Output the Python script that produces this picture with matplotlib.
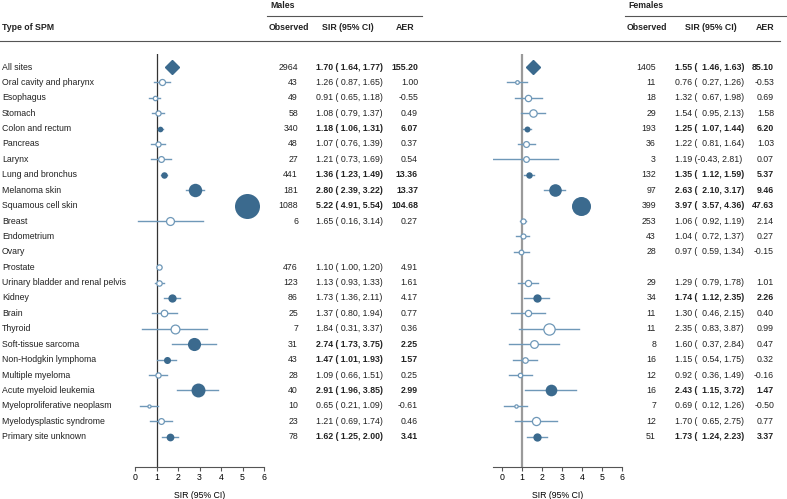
import numpy as np
import matplotlib
matplotlib.use("Agg")
import matplotlib.pyplot as plt
from matplotlib.lines import Line2D
from matplotlib.transforms import blended_transform_factory

plt.rcParams['font.family'] = ['Liberation Sans', 'DejaVu Sans']

nan = np.nan

spm_types = ["All sites", "Oral cavity and pharynx", "Esophagus", "Stomach",
             "Colon and rectum", "Pancreas", "Larynx", "Lung and bronchus",
             "Melanoma skin", "Squamous cell skin", "Breast", "Endometrium",
             "Ovary", "Prostate", "Urinary bladder and renal pelvis", "Kidney",
             "Brain", "Thyroid", "Soft-tissue sarcoma", "Non-Hodgkin lymphoma",
             "Multiple myeloma", "Acute myeloid leukemia",
             "Myeloproliferative neoplasm", "Myelodysplastic syndrome",
             "Primary site unknown"]

# males
m_obs = [2964, 43, 49, 58, 340, 48, 27, 441, 181, 1088, 6, None, None, 476, 123,
         86, 25, 7, 31, 43, 28, 40, 10, 23, 78]
m_sir = [1.70, 1.26, 0.91, 1.08, 1.18, 1.07, 1.21, 1.36, 2.80, 5.22, 1.65, nan, nan,
         1.10, 1.13, 1.73, 1.37, 1.84, 2.74, 1.47, 1.09, 2.91, 0.65, 1.21, 1.62]
m_lo = [1.64, 0.87, 0.65, 0.79, 1.06, 0.76, 0.73, 1.23, 2.39, 4.91, 0.16, nan, nan,
        1.00, 0.93, 1.36, 0.80, 0.31, 1.73, 1.01, 0.66, 1.96, 0.21, 0.69, 1.25]
m_hi = [1.77, 1.65, 1.18, 1.37, 1.31, 1.39, 1.69, 1.49, 3.22, 5.54, 3.14, nan, nan,
        1.20, 1.33, 2.11, 1.94, 3.37, 3.75, 1.93, 1.51, 3.85, 1.09, 1.74, 2.00]
m_aer = [155.20, 1.00, -0.55, 0.49, 6.07, 0.37, 0.54, 13.36, 13.37, 104.68, 0.27,
         nan, nan, 4.91, 1.61, 4.17, 0.77, 0.36, 2.25, 1.57, 0.25, 2.99, -0.61,
         0.46, 3.41]
m_bold = [0, 4, 7, 8, 9, 18, 19, 21, 24]
m_filled = [4, 7, 8, 9, 15, 18, 19, 21, 24]

# females
f_obs = [1405, 11, 18, 29, 193, 36, 3, 132, 97, 399, 253, 43, 28, None, 29, 34,
         11, 11, 8, 16, 12, 16, 7, 12, 51]
f_sir = [1.55, 0.76, 1.32, 1.54, 1.25, 1.22, 1.19, 1.35, 2.63, 3.97, 1.06, 1.04,
         0.97, nan, 1.29, 1.74, 1.30, 2.35, 1.60, 1.15, 0.92, 2.43, 0.69, 1.70, 1.73]
f_lo = [1.46, 0.27, 0.67, 0.95, 1.07, 0.81, -0.43, 1.12, 2.10, 3.57, 0.92, 0.72,
        0.59, nan, 0.79, 1.12, 0.46, 0.83, 0.37, 0.54, 0.36, 1.15, 0.12, 0.65, 1.24]
f_hi = [1.63, 1.26, 1.98, 2.13, 1.44, 1.64, 2.81, 1.59, 3.17, 4.36, 1.19, 1.37,
        1.34, nan, 1.78, 2.35, 2.15, 3.87, 2.84, 1.75, 1.49, 3.72, 1.26, 2.75, 2.23]
f_aer = [85.10, -0.53, 0.69, 1.58, 6.20, 1.03, 0.07, 5.37, 9.46, 47.63, 2.14, 0.27,
         -0.15, nan, 1.01, 2.26, 0.40, 0.99, 0.47, 0.32, -0.16, 1.47, -0.50, 0.77, 3.37]
f_bold = [0, 4, 7, 8, 9, 15, 21, 24]
f_filled = [4, 7, 8, 9, 15, 21, 24]

W, H = 787, 499
DARK = '#3b6a8e'
LIGHT = '#6f98b8'
FS = 6.3

fig = plt.figure(figsize=(W / 100, H / 100), dpi=100)
fig.patch.set_facecolor('white')

n = len(spm_types)
row0, step = 67, 15.4          # pixel y of first row, row spacing
ax_top, ax_bot = 54, 467


def fx(px):
    return px / W


def fy(py):
    return 1 - py / H


ylo = (ax_bot - row0) / step
yhi = (ax_top - row0) / step


def forest(x0px, xmin, refcol, reflw, sir, lo, hi, filled):
    ax = fig.add_axes([fx(x0px), fy(ax_bot), fx(129), (ax_bot - ax_top) / H])
    ax.set_xlim(xmin, 6)
    ax.set_ylim(ylo, yhi)
    ax.axvline(1, color=refcol, lw=reflw, zorder=1)
    for i in range(n):
        if np.isnan(sir[i]):
            continue
        ax.plot([lo[i], hi[i]], [i, i], color=LIGHT, lw=1.0, zorder=2)
        d = 3.45 * sir[i]
        if i == 0:
            ax.plot(sir[i], i, marker='D', ms=7, color=DARK, mec=DARK, zorder=3)
        elif i in filled:
            ax.scatter(sir[i], i, s=d ** 2, color=DARK, lw=0, zorder=3)
        else:
            ax.scatter(sir[i], i, s=d ** 2, facecolor='white', edgecolor=LIGHT,
                       lw=0.9, zorder=3)
    for s in ['top', 'right', 'left']:
        ax.spines[s].set_visible(False)
    ax.spines['bottom'].set_color('#555555')
    ax.spines['bottom'].set_linewidth(0.8)
    ax.set_yticks([])
    ax.set_xticks(range(0, 7))
    ax.tick_params(axis='x', labelsize=FS, length=3, width=0.8, color='#555555',
                   pad=1.5)
    ax.set_xlabel('SIR (95% CI)', fontsize=FS, labelpad=6)
    return ax


axm = forest(135, 0, '#333333', 0.9, m_sir, m_lo, m_hi, m_filled)
axf = forest(493, -0.45, '#9a9a9a', 1.6, f_sir, f_lo, f_hi, f_filled)

tr = blended_transform_factory(fig.transFigure, axm.transData)


def table(obs, sir, lo, hi, aer, bold, x_obs, x_sir, x_aer, pad):
    for i in range(n):
        if obs[i] is None:
            continue
        w = 'bold' if i in bold else 'normal'
        lo_s = f"{lo[i]:.2f}"
        if lo[i] >= 0:
            lo_s = pad + lo_s
        txt = f"{sir[i]:.2f} ({lo_s}, {hi[i]:.2f})"
        fig.text(fx(x_obs), i, str(obs[i]), transform=tr, ha='right', va='center',
                 fontsize=FS, color='#222222')
        fig.text(fx(x_sir), i, txt, transform=tr, ha='left', va='center',
                 fontsize=FS, fontweight=w, color='#222222')
        fig.text(fx(x_aer), i, f"{aer[i]:.2f}", transform=tr, ha='right',
                 va='center', fontsize=FS, fontweight=w, color='#222222')


for i, name in enumerate(spm_types):
    fig.text(fx(2), i, name, transform=tr, ha='left', va='center', fontsize=FS,
             color='#222222')

table(m_obs, m_sir, m_lo, m_hi, m_aer, m_bold, 298, 316, 418, ' ')
table(f_obs, f_sir, f_lo, f_hi, f_aer, f_bold, 656, 675, 774, '  ')

# headers
hdr = dict(fontsize=FS, fontweight='bold', va='center', color='#222222')
fig.text(fx(2), fy(28), 'Type of SPM', ha='left', **hdr)
fig.text(fx(270), fy(6), 'Males', ha='left', **hdr)
fig.text(fx(289), fy(28), 'Observed', ha='center', **hdr)
fig.text(fx(348), fy(28), 'SIR (95% CI)', ha='center', **hdr)
fig.text(fx(405), fy(28), 'AER', ha='center', **hdr)
fig.text(fx(628), fy(6), 'Females', ha='left', **hdr)
fig.text(fx(647), fy(28), 'Observed', ha='center', **hdr)
fig.text(fx(711), fy(28), 'SIR (95% CI)', ha='center', **hdr)
fig.text(fx(765), fy(28), 'AER', ha='center', **hdr)

for (x0, x1, y) in [(267, 422, 16), (625, 787, 16), (0, 780, 41)]:
    fig.add_artist(Line2D([fx(x0), fx(x1)], [fy(y), fy(y)], color='#555555',
                          lw=0.8, transform=fig.transFigure))

fig.savefig('out.png', dpi=100, facecolor='white')
